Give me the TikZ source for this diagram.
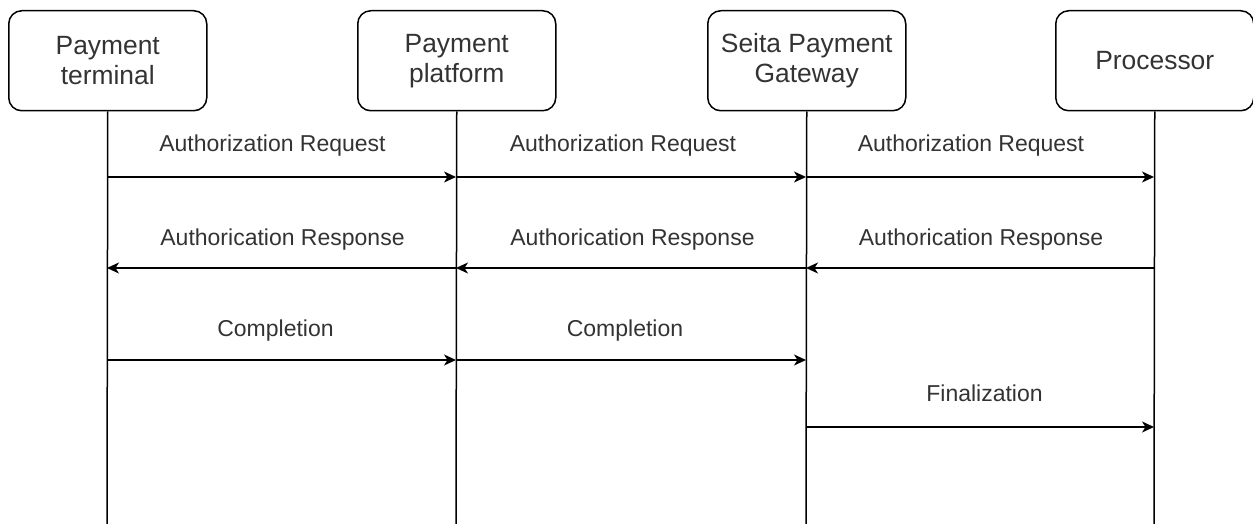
\documentclass[tikz,border=0pt]{standalone}
\usepackage{fontspec}
\setmainfont{Liberation Sans}
\usetikzlibrary{arrows.meta}
\definecolor{txt}{RGB}{51,51,51}
\begin{document}
\begin{tikzpicture}[x=1pt,y=-1pt,
  actor/.style={draw=black, line width=1.5pt, rounded corners=13pt, minimum width=198pt, minimum height=100pt, anchor=north west, inner sep=0pt, align=center, text=txt, font=\fontsize{26.4}{30}\selectfont},
  lifeline/.style={draw=black, line width=1.5pt},
  msg/.style={draw=black, line width=1.5pt, -{Stealth[length=12pt,width=11pt,inset=3.5pt]}},
  lbl/.style={anchor=base, text=txt, font=\fontsize{23}{27}\selectfont, inner sep=0pt}
]
\useasboundingbox (0,0) rectangle (1253,524);
% actors
\node[actor] (a1) at (8,10) {Payment\\terminal};
\node[actor] (a2) at (357,10) {Payment\\platform};
\node[actor] (a3) at (707,10) {Seita Payment\\Gateway};
\node[actor] (a4) at (1055,10) {Processor};
% lifeline ends
\coordinate (e1) at (107,524);
\coordinate (e2) at (456,524);
\coordinate (e3) at (806,524);
\coordinate (e4) at (1154,524);
\draw[lifeline] (a1.south) -- (e1);
\draw[lifeline] (a2.south) -- (e2);
\draw[lifeline] (a3.south) -- (e3);
\draw[lifeline] (a4.south) -- (e4);
% message points
\coordinate (r1) at (107,177); \coordinate (r2) at (456,177); \coordinate (r3) at (806,177); \coordinate (r4) at (1154,177);
\coordinate (s1) at (107,268); \coordinate (s2) at (456,268); \coordinate (s3) at (806,268); \coordinate (s4) at (1154,268);
\coordinate (c1) at (107,360); \coordinate (c2) at (456,360); \coordinate (c3) at (806,360);
\coordinate (f3) at (806,427); \coordinate (f4) at (1154,427);
% requests
\draw[msg] (r1) -- (r2);
\draw[msg] (r2) -- (r3);
\draw[msg] (r3) -- (r4);
\node[lbl] (lr1) at (272.5,152) {Authorization Request};
\node[lbl] (lr2) at (623,152) {Authorization Request};
\node[lbl] (lr3) at (971,152) {Authorization Request};
% responses
\draw[msg] (s4) -- (s3);
\draw[msg] (s3) -- (s2);
\draw[msg] (s2) -- (s1);
\node[lbl] (ls1) at (282.5,245) {Authorication Response};
\node[lbl] (ls2) at (632.5,245) {Authorication Response};
\node[lbl] (ls3) at (981,245) {Authorication Response};
% completion
\draw[msg] (c1) -- (c2);
\draw[msg] (c2) -- (c3);
\node[lbl] (lc1) at (275.5,336) {Completion};
\node[lbl] (lc2) at (625,336) {Completion};
% finalization
\draw[msg] (f3) -- (f4);
\node[lbl] (lf) at (984.5,401.5) {Finalization};
\end{tikzpicture}
\end{document}
